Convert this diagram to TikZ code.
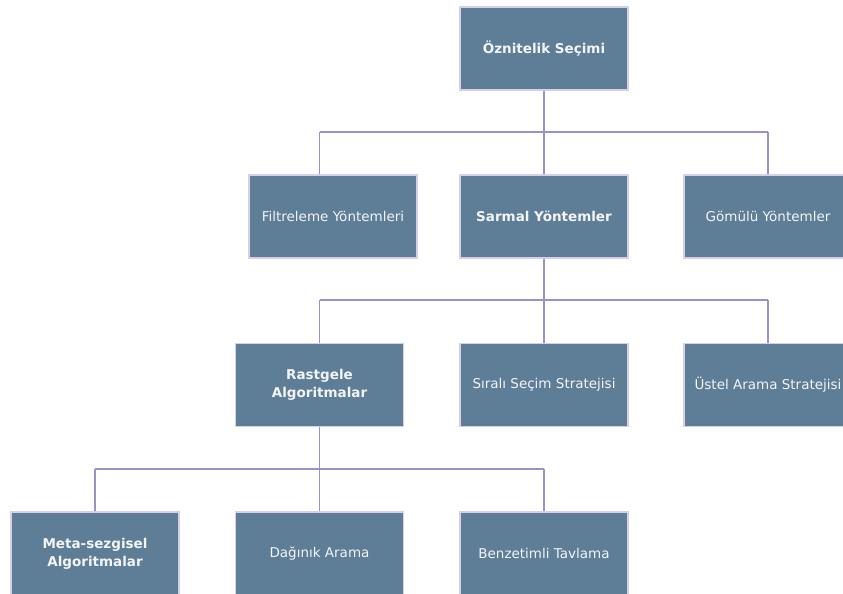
\documentclass[tikz,border=0pt]{standalone}
\usepackage{fontspec}
\setmainfont{DejaVu Sans}
\definecolor{boxfill}{HTML}{5E7D96}
\definecolor{boxborder}{HTML}{D4D0EA}
\definecolor{boxtext}{HTML}{F4F4F4}
\definecolor{connc}{HTML}{9A92C6}
\begin{document}
\begin{tikzpicture}[x=1pt,y=-1pt,
  box/.style={draw=boxborder, line width=1.2pt, fill=boxfill, text=boxtext,
    minimum width=168pt, minimum height=83pt, inner sep=0pt, align=center,
    font=\fontsize{13.5}{18}\selectfont},
  bbox/.style={box, font=\bfseries\fontsize{13.5}{18}\selectfont},
  conn/.style={draw=connc, line width=1.6pt}]
\useasboundingbox[fill=white] (0,0) rectangle (843,594);
% bus coordinates
\coordinate (b1) at (544,132); \coordinate (b1l) at (319.5,132); \coordinate (b1r) at (768,132);
\coordinate (b2) at (544,300); \coordinate (b2l) at (319.5,300); \coordinate (b2r) at (768,300);
\coordinate (b3) at (319.5,469); \coordinate (b3l) at (95,469); \coordinate (b3r) at (544,469);
% nodes
\node[bbox] (oz) at (544,48.5) {Öznitelik Seçimi};
\node[box]  (fil) at (333,216.5) {Filtreleme Yöntemleri};
\node[bbox] (sar) at (544,216.5) {Sarmal Yöntemler};
\node[box]  (gom) at (768,216.5) {Gömülü Yöntemler};
\node[bbox] (ras) at (319.5,385) {Rastgele\\Algoritmalar};
\node[box]  (sir) at (544,385) {Sıralı Seçim Stratejisi};
\node[box]  (ust) at (768,385) {Üstel Arama Stratejisi};
\node[bbox] (met) at (95,553.5) {Meta-sezgisel\\Algoritmalar};
\node[box]  (dag) at (319.5,553.5) {Dağınık Arama};
\node[box]  (ben) at (544,553.5) {Benzetimli Tavlama};
% level 1
\draw[conn] (oz.south) -- (b1);
\draw[conn] (b1l) -- (b1r);
\draw[conn] (b1l) -- (b1l |- fil.north);
\draw[conn] (b1) -- (sar.north);
\draw[conn] (b1r) -- (gom.north);
% level 2
\draw[conn] (sar.south) -- (b2);
\draw[conn] (b2l) -- (b2r);
\draw[conn] (b2l) -- (ras.north);
\draw[conn] (b2) -- (sir.north);
\draw[conn] (b2r) -- (ust.north);
% level 3
\draw[conn] (ras.south) -- (b3);
\draw[conn] (b3l) -- (b3r);
\draw[conn] (b3l) -- (met.north);
\draw[conn] (b3) -- (dag.north);
\draw[conn] (b3r) -- (ben.north);
\end{tikzpicture}
\end{document}
